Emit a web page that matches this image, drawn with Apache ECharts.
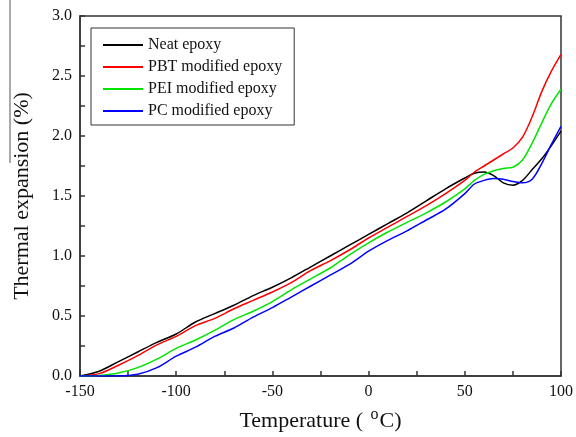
<!DOCTYPE html>
<html>
<head>
<meta charset="utf-8">
<script src="https://cdn.jsdelivr.net/npm/echarts@6/dist/echarts.min.js"></script>
<style>
  html, body { margin: 0; padding: 0; background: #fff; }
  #chart { width: 576px; height: 437px; }
</style>
</head>
<body>
<div id="chart"></div>
<script>
// temperatures (°C) at which the curves were read
var temps = [-150, -140, -130, -120, -110, -100, -90, -80, -70, -60, -50, -40, -30, -20, -10,
             0, 10, 20, 30, 40, 50, 55, 60, 65, 70, 75, 80, 85, 90, 95, 100];

// thermal expansion (%)
var neatEpoxy = [0, 0.04, 0.12, 0.20, 0.28, 0.35, 0.45, 0.52, 0.59, 0.67, 0.74, 0.82, 0.91, 1.00, 1.09,
                 1.18, 1.27, 1.36, 1.46, 1.56, 1.65, 1.69, 1.70, 1.67, 1.61, 1.59, 1.63, 1.72, 1.81, 1.92, 2.04];
var pbtEpoxy  = [0, 0.02, 0.09, 0.17, 0.26, 0.33, 0.42, 0.48, 0.56, 0.63, 0.70, 0.78, 0.88, 0.96, 1.05,
                 1.15, 1.24, 1.33, 1.42, 1.52, 1.63, 1.70, 1.75, 1.80, 1.85, 1.90, 1.99, 2.16, 2.37, 2.54, 2.68];
var peiEpoxy  = [0, 0.005, 0.025, 0.07, 0.14, 0.23, 0.30, 0.38, 0.47, 0.54, 0.62, 0.72, 0.81, 0.90, 1.01,
                 1.11, 1.20, 1.28, 1.36, 1.45, 1.56, 1.63, 1.68, 1.71, 1.73, 1.74, 1.80, 1.94, 2.11, 2.27, 2.39];
var pcEpoxy   = [0, 0, 0, 0.015, 0.07, 0.165, 0.24, 0.33, 0.40, 0.49, 0.57, 0.66, 0.75, 0.84, 0.93,
                 1.04, 1.13, 1.21, 1.30, 1.39, 1.52, 1.60, 1.63, 1.645, 1.64, 1.62, 1.61, 1.64, 1.77, 1.93, 2.08];

var seriesNames = ['Neat epoxy', 'PBT modified epoxy', 'PEI modified epoxy', 'PC modified epoxy'];
var seriesColors = ['#000000', '#ff0000', '#00e600', '#0000ff'];

function pairs(vals) {
  return temps.map(function (t, i) { return [t, vals[i]]; });
}

var font = 'Liberation Serif';
var allData = [neatEpoxy, pbtEpoxy, peiEpoxy, pcEpoxy];

var myChart = echarts.init(document.getElementById('chart'));
var option = {
  backgroundColor: '#fff',
  animation: false,
  grid: {
    left: 80, top: 16, right: 12, bottom: 59,
    show: true,
    borderColor: '#333',
    borderWidth: 1.5
  },
  legend: {
    left: 91, top: 28,
    orient: 'vertical',
    borderColor: '#333',
    borderWidth: 1,
    padding: [9, 12, 6, 12],
    icon: 'rect',
    itemWidth: 40,
    itemHeight: 2,
    itemGap: 6,
    textStyle: { fontFamily: font, fontSize: 16, lineHeight: 14, color: '#111' },
    data: seriesNames
  },
  xAxis: {
    type: 'value',
    min: -150, max: 100, interval: 50,
    name: '{a|Temperature ( }{s|o}{a|C)}',
    nameLocation: 'middle',
    nameGap: 25,
    nameTextStyle: {
      verticalAlign: 'top',
      rich: {
        a: { fontFamily: font, fontSize: 22, color: '#111', padding: [9, 0, 0, 0] },
        s: { fontFamily: font, fontSize: 16, color: '#111', padding: [0, 1, 4, 2] }
      }
    },
    axisLine: { lineStyle: { color: '#333', width: 1.5 } },
    axisTick: { inside: true, length: 5, lineStyle: { color: '#333', width: 1.5 } },
    minorTick: { show: true, splitNumber: 2, length: 5, lineStyle: { color: '#333', width: 1.5 } },
    splitLine: { show: false },
    axisLabel: { fontFamily: font, fontSize: 16, color: '#111', margin: 8 }
  },
  yAxis: {
    type: 'value',
    min: 0, max: 3, interval: 0.5,
    name: 'Thermal expansion (%)',
    nameLocation: 'middle',
    nameGap: 47,
    nameTextStyle: { fontFamily: font, fontSize: 22, color: '#111' },
    axisLine: { show: true, onZero: false, lineStyle: { color: '#333', width: 1.5 } },
    axisTick: { show: true, inside: true, length: 5, lineStyle: { color: '#333', width: 1.5 } },
    minorTick: { show: true, splitNumber: 2, length: 5, lineStyle: { color: '#333', width: 1.5 } },
    splitLine: { show: false },
    axisLabel: {
      fontFamily: font, fontSize: 16, color: '#111', margin: 8,
      formatter: function (v) { return v.toFixed(1); }
    }
  },
  graphic: [{
    type: 'line',
    shape: { x1: 10, y1: 0, x2: 10, y2: 163 },
    style: { stroke: '#555', lineWidth: 1 }
  }],
  series: seriesNames.map(function (name, i) {
    return {
      name: name,
      type: 'line',
      data: pairs(allData[i]),
      symbol: 'none',
      smooth: 0.3,
      color: seriesColors[i],
      lineStyle: { width: 1.5, color: seriesColors[i] }
    };
  })
};
myChart.setOption(option);
</script>
</body>
</html>
